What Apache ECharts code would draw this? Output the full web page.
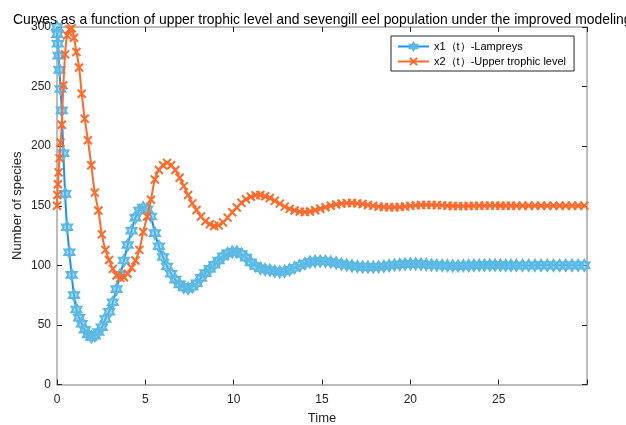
<!DOCTYPE html>
<html>
<head>
<meta charset="utf-8">
<script src="https://cdn.jsdelivr.net/npm/echarts@6/dist/echarts.min.js"></script>
<style>html,body{margin:0;padding:0;background:#fff}#c{width:626px;height:425px}</style>
</head>
<body>
<div id="c"></div>
<script>
var titleText = 'Curves as a function of upper trophic level and sevengill eel population under the improved modeling';
var xName = 'Time';
var yName = 'Number of species';
var seriesNames = ['x1\uFF08t\uFF09-Lampreys', 'x2\uFF08t\uFF09-Upper trophic level'];
var xTicks = [0, 5, 10, 15, 20, 25];
var yTicks = [0, 50, 100, 150, 200, 250, 300];

var time = [0, 0.02, 0.05, 0.09, 0.14, 0.2, 0.27, 0.36, 0.46, 0.57, 0.7, 0.83, 0.96, 1.1, 1.25, 1.4, 1.57, 1.75, 1.94, 2.14,
  2.34, 2.54, 2.74, 2.95, 3.16, 3.37, 3.58, 3.79, 4.0, 4.22, 4.44, 4.66, 4.88, 5.1, 5.32, 5.54, 5.77, 6.0, 6.23, 6.46,
  6.7, 6.94, 7.18, 7.42, 7.66, 7.9, 8.15, 8.4, 8.65, 8.9, 9.15, 9.4, 9.66, 9.92, 10.18, 10.44, 10.7, 10.97, 11.24, 11.51,
  11.78, 12.05, 12.33, 12.61, 12.89, 13.17, 13.45, 13.74, 14.03, 14.32, 14.61, 14.9, 15.2, 15.5, 15.8, 16.1, 16.4, 16.7, 17.0, 17.3,
  17.6, 17.9, 18.2, 18.5, 18.8, 19.1, 19.4, 19.7, 20.0, 20.3, 20.6, 20.9, 21.2, 21.5, 21.8, 22.1, 22.4, 22.7, 23.0, 23.3,
  23.6, 23.9, 24.2, 24.5, 24.8, 25.1, 25.4, 25.7, 26.0, 26.35, 26.7, 27.05, 27.4, 27.75, 28.1, 28.45, 28.8, 29.15, 29.5, 29.85];

var lampreys = [300, 294, 286, 276, 264, 248, 230, 194, 160, 132, 111, 92, 75, 63, 56, 51, 46, 42, 40, 41,
  44, 48, 55, 61, 69, 80, 92, 104, 117, 129, 140, 146, 148.5, 147, 141, 127, 116, 107, 99, 93,
  88, 84, 81.5, 80.7, 82, 85, 89.5, 93.5, 97, 100.5, 104, 107.5, 110, 111.3, 111.3, 109.5, 106.5, 102.5, 99.5, 97.5,
  96.5, 96, 95, 94.5, 95, 96.3, 98, 99.8, 101.5, 102.8, 103.3, 103.6, 103.4, 102.8, 102, 101, 100.3, 99.6, 99, 98.7,
  98.6, 98.6, 98.8, 99.2, 99.8, 100.3, 100.7, 101, 101.2, 101.2, 101, 100.7, 100.4, 100.1, 99.9, 99.7, 99.6, 99.6, 99.7, 99.8,
  100, 100.1, 100.2, 100.2, 100.2, 100.1, 100, 100, 99.9, 99.9, 99.9, 100, 100, 100, 100, 100, 100, 100, 100, 100];

var upperTrophic = [150, 159, 168, 178, 190, 203, 218, 251, 277, 293, 298, 299, 291, 279, 266, 244, 223, 205, 184, 161,
  146, 126, 113, 104.5, 97, 91.5, 89.5, 90, 93, 98, 104, 113, 128, 141, 155, 172, 180, 184, 186, 184,
  180, 173.5, 166.5, 159, 152, 146.5, 141, 137, 134.5, 133, 133.5, 136, 140, 144.5, 148.5, 152.5, 155.5, 157.5, 158.8, 159,
  158, 156.5, 154.2, 151.8, 149.3, 147.4, 146, 145.1, 144.8, 145.2, 146.2, 147.5, 148.8, 150, 151, 151.8, 152.2, 152.3, 152, 151.4,
  150.6, 149.9, 149.3, 148.9, 148.7, 148.8, 149, 149.4, 149.9, 150.3, 150.6, 150.7, 150.7, 150.5, 150.3, 150, 149.8, 149.7, 149.7, 149.8,
  149.9, 150, 150.1, 150.1, 150.1, 150, 150, 150, 150, 150, 150, 150, 150, 150, 150, 150, 150, 150, 150, 150];

var hexagram = 'path://M0,-10L2.887,-5L8.66,-5L5.77,0L8.66,5L2.887,5L0,10L-2.887,5L-8.66,5L-5.77,0L-8.66,-5L-2.887,-5Z';
var cross = 'path://M0,0L10,10M10,0L0,10';

function pairs(ys) { return time.map(function (t, i) { return [t, ys[i]]; }); }

var font = 'Liberation Sans, Arial, Helvetica, sans-serif';
var axisColor = '#262626';
var lineColor = '#a6a6a6';

var chart = echarts.init(document.getElementById('c'), null, { renderer: 'canvas' });
chart.setOption({
  animation: false,
  backgroundColor: '#fff',
  title: {
    text: titleText, left: 8, top: 8,
    textStyle: { fontFamily: font, fontSize: 13.9, fontWeight: 'normal', color: '#000' }
  },
  legend: {
    orient: 'vertical', left: 391, top: 36, width: 184,
    padding: [5, 8, 4, 6], itemGap: 4, itemWidth: 31, itemHeight: 9,
    borderColor: '#262626', borderWidth: 1, backgroundColor: '#fff',
    textStyle: { fontFamily: font, fontSize: 11, color: '#000', width: 140 },
    data: seriesNames
  },
  grid: { left: 57, right: 39, top: 27, bottom: 40.5, containLabel: false, outerBoundsMode: 'none' },
  xAxis: [{
    type: 'value', min: 0, max: 30, interval: 5,
    name: xName, nameLocation: 'middle', nameGap: 27,
    nameTextStyle: { fontFamily: font, fontSize: 13, color: axisColor },
    axisLine: { onZero: false, lineStyle: { color: lineColor, width: 1.5 } },
    axisTick: { inside: true, length: 5, lineStyle: { color: axisColor } },
    axisLabel: { fontFamily: font, fontSize: 12, color: axisColor, margin: 9,
      formatter: function (v) { return xTicks.indexOf(v) >= 0 ? String(v) : ''; } },
    splitLine: { show: false }
  }, {
    type: 'value', min: 0, max: 30, interval: 5, position: 'top',
    axisLine: { show: true, onZero: false, lineStyle: { color: lineColor, width: 1.5 } },
    axisTick: { show: true, inside: true, length: 5, lineStyle: { color: axisColor } },
    axisLabel: { show: false }, splitLine: { show: false }
  }],
  yAxis: [{
    type: 'value', min: 0, max: 300, interval: 50,
    name: yName, nameLocation: 'middle', nameGap: 33, nameMoveOverlap: false,
    nameTextStyle: { fontFamily: font, fontSize: 13, color: axisColor },
    axisLine: { show: true, onZero: false, lineStyle: { color: lineColor, width: 1.5 } },
    axisTick: { show: true, inside: true, length: 5, lineStyle: { color: axisColor } },
    axisLabel: { fontFamily: font, fontSize: 12, color: axisColor, margin: 6,
      formatter: function (v) { return yTicks.indexOf(v) >= 0 ? String(v) : ''; } },
    splitLine: { show: false }
  }, {
    type: 'value', min: 0, max: 300, interval: 50, position: 'right',
    axisLine: { show: true, onZero: false, lineStyle: { color: lineColor, width: 1.5 } },
    axisTick: { show: true, inside: true, length: 5, lineStyle: { color: axisColor } },
    axisLabel: { show: false }, splitLine: { show: false }
  }],
  series: [{
    name: seriesNames[0], type: 'line', xAxisIndex: 0, yAxisIndex: 0,
    data: pairs(lampreys), smooth: true,
    lineStyle: { color: '#1a90ff', width: 2 },
    symbol: hexagram, symbolSize: [10, 11], showAllSymbol: true,
    itemStyle: { color: 'rgba(110,195,235,0.55)', borderColor: '#5ab8e2', borderWidth: 2 },
    z: 2
  }, {
    name: seriesNames[1], type: 'line', xAxisIndex: 0, yAxisIndex: 0,
    data: pairs(upperTrophic), smooth: true,
    lineStyle: { color: '#ff6a2c', width: 2 },
    symbol: cross, symbolSize: 8, showAllSymbol: true,
    itemStyle: { color: 'rgba(0,0,0,0)', borderColor: '#ff6a2c', borderWidth: 2 },
    z: 3
  }]
});
</script>
</body>
</html>
